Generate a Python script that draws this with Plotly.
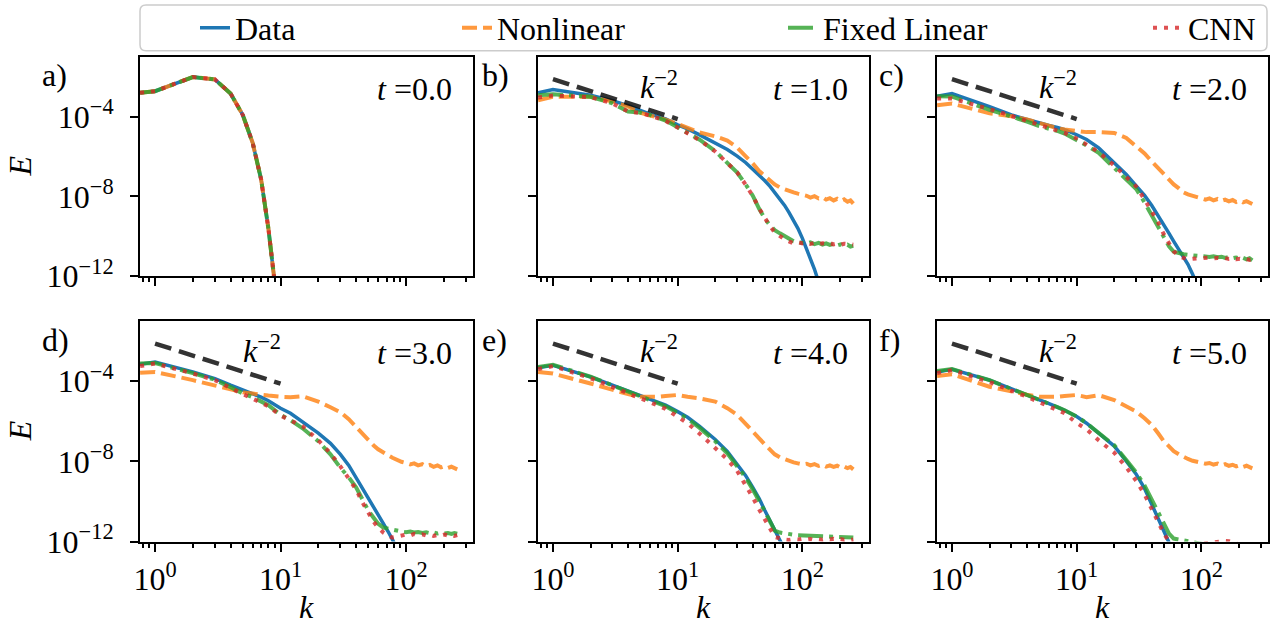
import plotly.graph_objects as go

# ---------------- data (log10 of E) ----------------
K = [0.76, 1, 2, 3, 4, 5, 6, 7, 8, 10, 12, 15, 20, 25, 30, 35, 40, 45, 50, 55,
     60, 66, 72, 78, 85, 92, 100, 108, 116, 125, 135, 145, 155, 166, 178, 190,
     203, 216, 230, 243, 256]

K_T0 = [0.76, 1, 2, 3, 4, 5, 6, 7, 8, 9, 10]
LOGE_T0 = [-2.81, -2.73, -2.02, -2.14, -2.85, -3.92, -5.32, -7.14, -9.60, -12.0, -14.8]

DATA_T1 = [-2.81, -2.65, -2.93, -3.20, -3.45, -3.70, -3.88, -4.00, -4.12, -4.42, -4.62, -4.92, -5.32, -5.65, -5.98, -6.30, -6.64, -6.93, -7.22, -7.50, -7.80, -8.12, -8.45, -8.80, -9.20, -9.60, -10.10, -10.60, -11.10, -11.65, -12.30]
NONLIN_T1 = [-3.18, -3.01, -3.01, -3.25, -3.50, -3.80, -3.95, -4.05, -4.15, -4.37, -4.55, -4.80, -4.99, -5.20, -5.55, -5.95, -6.35, -6.73, -6.98, -7.20, -7.40, -7.55, -7.65, -7.72, -7.80, -7.86, -7.90, -7.97, -8.06, -7.99, -8.10, -8.04, -8.16, -8.09, -8.20, -8.12, -8.23, -8.15, -8.27, -8.20, -8.36]
FIXED_T1 = [-2.93, -2.88, -3.01, -3.34, -3.75, -3.80, -3.92, -4.05, -4.20, -4.53, -4.80, -5.16, -5.73, -6.31, -6.81, -7.39, -7.96, -8.62, -9.12, -9.45, -9.69, -9.85, -9.98, -10.15, -10.25, -10.30, -10.32, -10.36, -10.30, -10.39, -10.33, -10.41, -10.35, -10.43, -10.37, -10.46, -10.40, -10.48, -10.42, -10.51, -10.48]
CNN_T1 = [-3.05, -2.95, -3.03, -3.34, -3.75, -3.82, -3.95, -4.07, -4.22, -4.55, -4.82, -5.18, -5.75, -6.30, -6.80, -7.40, -7.98, -8.60, -9.10, -9.50, -9.80, -10.00, -10.15, -10.25, -10.35, -10.30, -10.35, -10.30, -10.38, -10.33, -10.40, -10.35, -10.38, -10.34, -10.40, -10.36, -10.42, -10.37, -10.40, -10.38, -10.42]

DATA_T2 = [-2.98, -2.85, -3.50, -3.92, -4.15, -4.33, -4.45, -4.55, -4.65, -4.91, -5.15, -5.57, -6.31, -6.90, -7.47, -7.95, -8.46, -8.95, -9.45, -9.85, -10.25, -10.65, -11.00, -11.40, -11.90, -12.40]
NONLIN_T2 = [-3.43, -3.35, -3.84, -3.98, -4.15, -4.33, -4.48, -4.58, -4.65, -4.74, -4.78, -4.78, -4.82, -5.07, -5.49, -5.85, -6.25, -6.60, -6.90, -7.14, -7.40, -7.60, -7.80, -7.90, -7.98, -8.05, -8.10, -8.16, -8.10, -8.20, -8.13, -8.22, -8.16, -8.25, -8.18, -8.28, -8.21, -8.30, -8.24, -8.33, -8.38]
FIXED_T2 = [-2.98, -3.00, -3.66, -3.98, -4.25, -4.48, -4.60, -4.72, -4.85, -5.16, -5.45, -5.82, -6.56, -7.14, -7.63, -8.30, -8.95, -9.55, -10.10, -10.50, -10.77, -10.85, -10.90, -10.93, -10.95, -10.98, -11.00, -10.97, -11.03, -11.00, -11.05, -11.02, -11.08, -11.04, -11.10, -11.06, -11.12, -11.08, -11.15, -11.10, -11.20]
CNN_T2 = [-3.10, -3.10, -3.62, -3.97, -4.25, -4.45, -4.58, -4.70, -4.82, -5.10, -5.38, -5.78, -6.45, -7.00, -7.50, -8.15, -8.75, -9.30, -9.90, -10.40, -10.75, -11.00, -11.10, -11.15, -11.12, -11.10, -11.08, -11.10, -11.06, -11.10, -11.08, -11.12, -11.09, -11.13, -11.10, -11.15, -11.12, -11.17, -11.14, -11.18, -11.16]

DATA_T3 = [-3.16, -3.05, -3.54, -3.87, -4.20, -4.44, -4.62, -4.80, -4.98, -5.35, -5.60, -6.01, -6.59, -7.10, -7.65, -8.20, -8.81, -9.30, -9.80, -10.20, -10.62, -11.05, -11.50, -11.90, -12.40]
NONLIN_T3 = [-3.58, -3.54, -3.95, -4.20, -4.40, -4.56, -4.62, -4.69, -4.72, -4.78, -4.80, -4.75, -5.02, -5.30, -5.55, -5.90, -6.30, -6.60, -6.95, -7.20, -7.40, -7.58, -7.70, -7.82, -7.95, -8.02, -8.08, -8.15, -8.10, -8.20, -8.14, -8.24, -8.18, -8.27, -8.20, -8.30, -8.24, -8.33, -8.27, -8.36, -8.40]
FIXED_T3 = [-3.12, -3.10, -3.60, -3.93, -4.30, -4.61, -4.80, -5.00, -5.20, -5.68, -5.95, -6.35, -7.00, -7.65, -8.32, -8.80, -9.30, -9.90, -10.45, -10.80, -11.11, -11.30, -11.36, -11.42, -11.44, -11.50, -11.53, -11.50, -11.55, -11.52, -11.57, -11.54, -11.58, -11.55, -11.60, -11.56, -11.60, -11.57, -11.62, -11.58, -11.61]
CNN_T3 = [-3.25, -3.12, -3.62, -3.95, -4.35, -4.65, -4.85, -5.05, -5.25, -5.72, -5.95, -6.25, -6.95, -7.60, -8.25, -8.85, -9.40, -10.05, -10.60, -11.00, -11.30, -11.55, -11.70, -11.80, -11.75, -11.70, -11.65, -11.70, -11.62, -11.68, -11.64, -11.70, -11.66, -11.72, -11.67, -11.70, -11.65, -11.70, -11.66, -11.72, -11.68]

DATA_T4 = [-3.33, -3.21, -3.79, -4.20, -4.48, -4.69, -4.88, -5.05, -5.20, -5.52, -5.80, -6.26, -6.91, -7.50, -8.15, -8.70, -9.30, -9.85, -10.45, -10.95, -11.44, -11.95, -12.40]
NONLIN_T4 = [-3.54, -3.62, -4.12, -4.45, -4.65, -4.78, -4.80, -4.78, -4.74, -4.69, -4.78, -4.86, -5.02, -5.35, -5.68, -6.10, -6.50, -6.85, -7.16, -7.45, -7.65, -7.80, -7.90, -7.98, -8.05, -8.10, -8.15, -8.12, -8.20, -8.14, -8.23, -8.17, -8.26, -8.20, -8.28, -8.22, -8.31, -8.25, -8.34, -8.28, -8.40]
FIXED_T4 = [-3.30, -3.18, -3.78, -4.20, -4.50, -4.72, -4.90, -5.08, -5.25, -5.58, -5.87, -6.33, -7.00, -7.60, -8.25, -8.80, -9.40, -9.95, -10.50, -11.00, -11.45, -11.55, -11.60, -11.63, -11.66, -11.68, -11.69, -11.72, -11.70, -11.74, -11.72, -11.76, -11.74, -11.78, -11.75, -11.79, -11.77, -11.80, -11.78, -11.81, -11.80]
CNN_T4 = [-3.40, -3.25, -3.85, -4.28, -4.60, -4.85, -5.05, -5.22, -5.38, -5.77, -6.10, -6.62, -7.33, -7.90, -8.48, -9.15, -9.80, -10.40, -10.95, -11.35, -11.77, -11.85, -11.90, -11.92, -11.88, -11.90, -11.86, -11.90, -11.87, -11.92, -11.88, -11.91, -11.87, -11.90, -11.86, -11.91, -11.88, -11.92, -11.89, -11.93, -11.90]

DATA_T5 = [-3.54, -3.41, -3.95, -4.37, -4.68, -4.94, -5.12, -5.30, -5.45, -5.76, -6.10, -6.59, -7.24, -7.99, -8.64, -9.35, -10.12, -10.80, -11.44, -12.05]
NONLIN_T5 = [-3.74, -3.66, -4.28, -4.53, -4.68, -4.78, -4.80, -4.78, -4.74, -4.69, -4.80, -4.70, -4.94, -5.27, -5.52, -5.85, -6.18, -6.60, -7.00, -7.25, -7.49, -7.65, -7.78, -7.88, -7.97, -8.03, -8.07, -8.12, -8.08, -8.16, -8.11, -8.20, -8.14, -8.22, -8.17, -8.25, -8.19, -8.28, -8.22, -8.31, -8.35]
FIXED_T5 = [-3.50, -3.40, -3.95, -4.37, -4.68, -4.94, -5.12, -5.30, -5.45, -5.76, -6.10, -6.57, -7.20, -7.93, -8.55, -9.20, -9.90, -10.50, -11.10, -11.60, -11.85, -11.90, -11.95, -11.97, -12.00, -12.05, -12.10, -12.15, -12.12, -12.18, -12.15, -12.20, -12.17, -12.22, -12.19, -12.24, -12.20, -12.25, -12.22, -12.27, -12.25]
CNN_T5 = [-3.60, -3.45, -4.05, -4.45, -4.78, -5.05, -5.25, -5.45, -5.60, -6.09, -6.40, -6.95, -7.57, -8.30, -8.97, -9.65, -10.38, -11.00, -11.60, -12.00, -12.20, -12.25, -12.22, -12.18, -12.20, -12.15, -12.12, -12.10, -12.08, -12.05, -12.03, -12.00, -11.97, -11.98, -12.05, -12.10, -12.15, -12.20, -12.22, -12.25, -12.25]

REF_K = [1, 10]
REF_E = [7.5e-3, 7.5e-5]

SERIES_NAMES = ["Data", "Nonlinear", "Fixed Linear", "CNN"]
TIME_LABELS = ["0.0", "1.0", "2.0", "3.0", "4.0", "5.0"]
PANEL_LETTERS = ["a)", "b)", "c)", "d)", "e)", "f)"]
X_TITLE = "<i>k</i>"
Y_TITLE = "<i>E</i>"
X_MAJOR = [1, 10, 100]
X_MAJOR_TEXT = ["10<sup>0</sup>", "10<sup>1</sup>", "10<sup>2</sup>"]
X_MINOR = [0.8, 0.9, 2, 3, 4, 5, 6, 7, 8, 9, 20, 30, 40, 50, 60, 70, 80, 90, 200, 300]
Y_MAJOR = [1e-12, 1e-8, 1e-4]
Y_MAJOR_TEXT = ["10<sup>−12</sup>", "10<sup>−8</sup>", "10<sup>−4</sup>"]

# ---------------- styling ----------------
FONT = "Liberation Serif"
FS = 32
STYLES = [
    dict(color="#1f77b4", width=3.5, dash="solid"),
    dict(color="rgba(255,127,14,0.8)", width=4, dash="15px,6px"),
    dict(color="rgba(44,160,44,0.8)", width=4, dash="25px,6px,4px,6px"),
    dict(color="rgba(214,39,40,0.8)", width=4, dash="4px,7px"),
]
LEGEND_IDS = ["legend", "legend2", "legend3", "legend4"]
LEGEND_X_PX = [195, 457, 783, 1148]

W, H = 1285, 630
COL_PX = [(140, 473), (538, 869), (937, 1268)]
ROW_PX = [(53, 274), (319, 541)]

panels = [
    (K_T0, [LOGE_T0, LOGE_T0, LOGE_T0, LOGE_T0]),
    (K, [DATA_T1, NONLIN_T1, FIXED_T1, CNN_T1]),
    (K, [DATA_T2, NONLIN_T2, FIXED_T2, CNN_T2]),
    (K, [DATA_T3, NONLIN_T3, FIXED_T3, CNN_T3]),
    (K, [DATA_T4, NONLIN_T4, FIXED_T4, CNN_T4]),
    (K, [DATA_T5, NONLIN_T5, FIXED_T5, CNN_T5]),
]


def tfont():
    return dict(family=FONT, size=FS, color="black")


fig = go.Figure()
annotations = []
layout_axes = {}

for i, (kk, series) in enumerate(panels):
    r, c = divmod(i, 3)
    n = i + 1
    xa = "x" if n == 1 else f"x{n}"
    ya = "y" if n == 1 else f"y{n}"
    for j, vals in enumerate(series):
        pts = list(zip(kk, vals))
        fig.add_trace(go.Scatter(
            x=[p[0] for p in pts], y=[10 ** p[1] for p in pts],
            mode="lines", line=STYLES[j], name=SERIES_NAMES[j],
            xaxis=xa, yaxis=ya, showlegend=(i == 0), legend=LEGEND_IDS[j],
            hoverinfo="skip"))
    if i > 0:
        fig.add_trace(go.Scatter(
            x=REF_K, y=REF_E, mode="lines",
            line=dict(color="rgba(0,0,0,0.8)", width=4.5, dash="17px,8px"),
            xaxis=xa, yaxis=ya, showlegend=False, hoverinfo="skip"))
        annotations.append(dict(
            xref=xa, yref=ya, x=0.85, y=-2.42, text="<i>k</i><sup>−2</sup>",
            showarrow=False, xanchor="center", yanchor="middle", font=tfont()))
    annotations.append(dict(
        xref=f"{xa} domain", yref=f"{ya} domain", x=0.943, y=0.855,
        text=f"<i>t</i> ={TIME_LABELS[i]}", showarrow=False,
        xanchor="right", yanchor="middle", font=tfont()))
    lx = [40, 480, 877][c]
    ly = [71, 338][r]
    annotations.append(dict(
        xref="paper", yref="paper", x=lx / W, y=1 - ly / H, text=PANEL_LETTERS[i],
        showarrow=False, xanchor="left", yanchor="middle", font=tfont()))

    x0, x1 = COL_PX[c]
    yt, yb = ROW_PX[r]
    # axis titles as annotations (exact placement)
    if r == 1:
        annotations.append(dict(
            xref=f"{xa} domain", yref="paper", x=0.5, y=1 - 607 / H, text=X_TITLE,
            showarrow=False, xanchor="center", yanchor="middle", font=tfont()))
    if c == 0:
        annotations.append(dict(
            xref="paper", yref=f"{ya} domain", x=20 / W, y=0.5, text=Y_TITLE,
            textangle=-90, showarrow=False, xanchor="center", yanchor="middle",
            font=tfont()))

    common = dict(showline=True, mirror=True, linewidth=2, linecolor="black",
                  showgrid=False, zeroline=False, ticks="outside", ticklen=8,
                  tickwidth=2, tickcolor="black", tickfont=tfont(),
                  automargin=False)
    xkey = "xaxis" if n == 1 else f"xaxis{n}"
    ykey = "yaxis" if n == 1 else f"yaxis{n}"
    layout_axes[xkey] = dict(
        type="log", range=[-0.12, 2.534], domain=[x0 / W, x1 / W], anchor=ya,
        tickmode="array", tickvals=X_MAJOR, ticktext=X_MAJOR_TEXT,
        showticklabels=(r == 1), ticklabelstandoff=0,
        minor=dict(tickmode="array", tickvals=X_MINOR, ticks="outside",
                   ticklen=4, tickwidth=1.5, tickcolor="black", showgrid=False),
        **common)
    layout_axes[ykey] = dict(
        type="log", range=[-12, -1], domain=[1 - yb / H, 1 - yt / H], anchor=xa,
        tickmode="array", tickvals=Y_MAJOR, ticktext=Y_MAJOR_TEXT,
        showticklabels=(c == 0), ticklabelstandoff=10, **common)

# legend frame (rounded box)
bx0, bx1, by0, by1 = 140 / W, 1267 / W, 1 - 47 / H, 1 - 1 / H
rx, ry = 6 / W, 6 / H
path = (f"M {bx0+rx},{by0} L {bx1-rx},{by0} Q {bx1},{by0} {bx1},{by0+ry} "
        f"L {bx1},{by1-ry} Q {bx1},{by1} {bx1-rx},{by1} L {bx0+rx},{by1} "
        f"Q {bx0},{by1} {bx0},{by1-ry} L {bx0},{by0+ry} Q {bx0},{by0} {bx0+rx},{by0} Z")
shapes = [dict(type="path", xref="paper", yref="paper", path=path,
               line=dict(color="#cccccc", width=1.5), fillcolor="white", layer="below")]

legends = {}
for j, lid in enumerate(LEGEND_IDS):
    legends[lid] = dict(x=LEGEND_X_PX[j] / W, y=1 - 24 / H, xanchor="left",
                        yanchor="middle", orientation="h",
                        bgcolor="rgba(0,0,0,0)", borderwidth=0, font=tfont())

fig.update_layout(
    width=W, height=H, autosize=False,
    margin=dict(l=0, r=0, t=0, b=0),
    paper_bgcolor="white", plot_bgcolor="white",
    font=tfont(),
    annotations=annotations, shapes=shapes, hovermode=False,
    **layout_axes, **legends)

fig.write_html("out.html")
